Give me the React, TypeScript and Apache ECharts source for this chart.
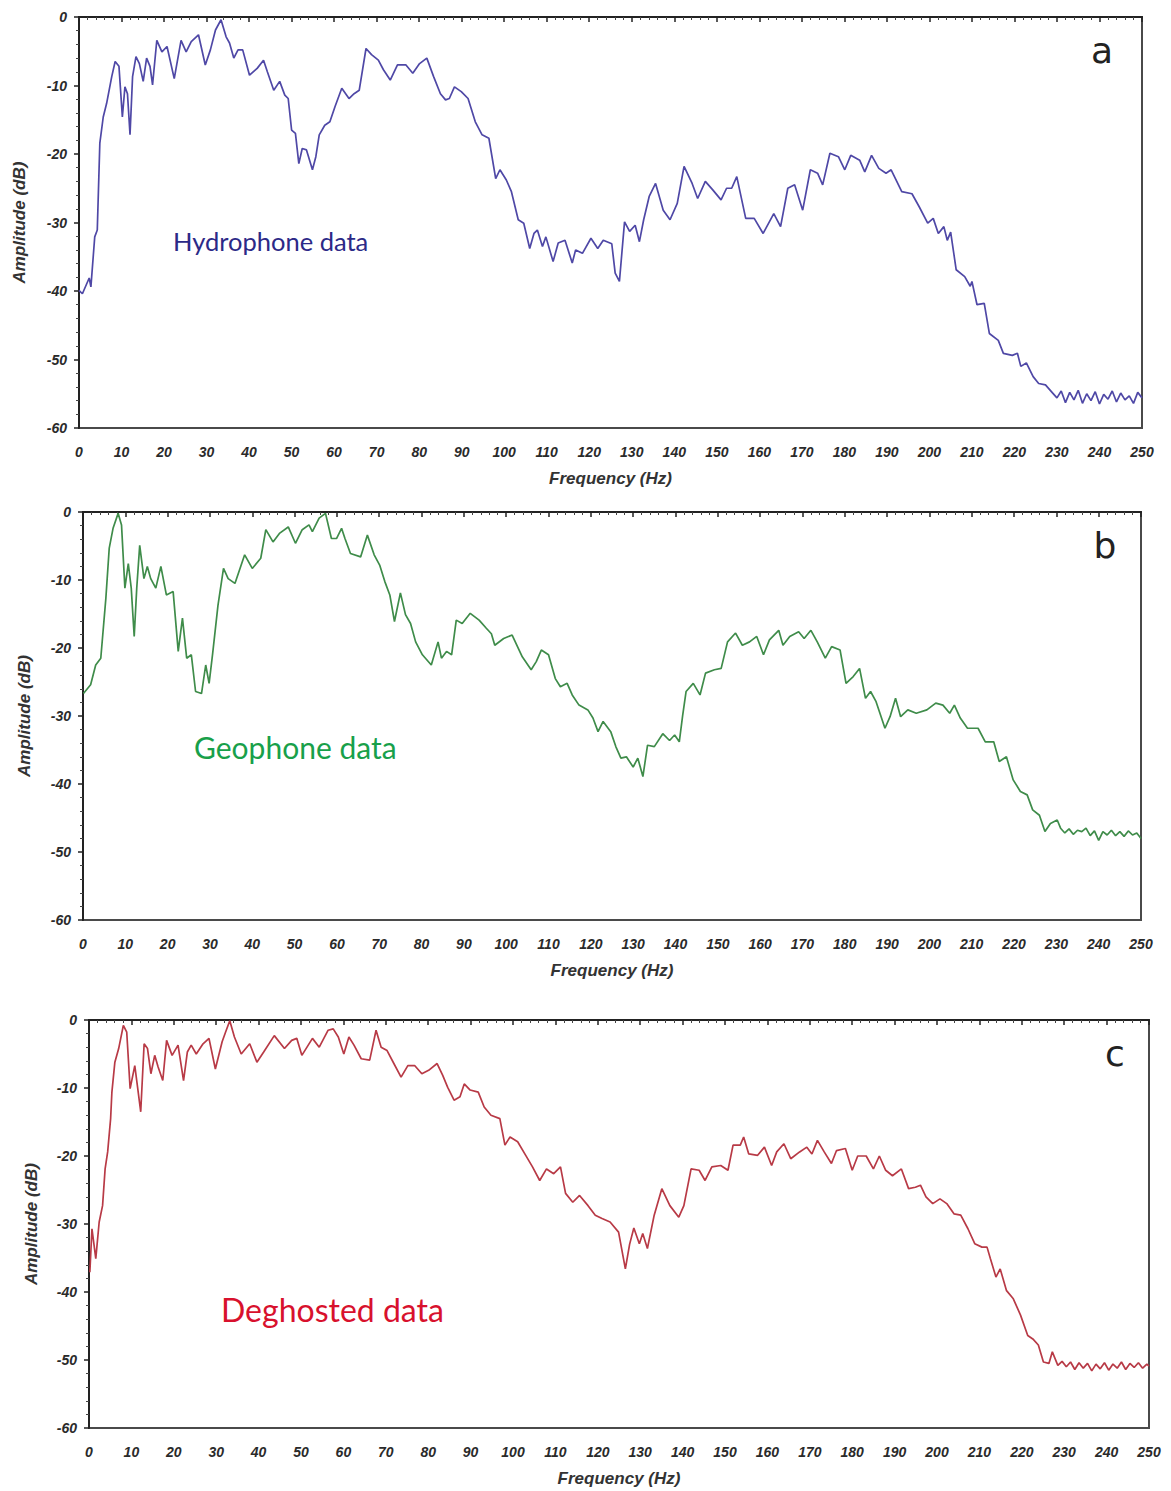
import React, { useEffect, useRef } from "react";
import * as echarts from "echarts";

// Frequency axis ticks (Hz) and amplitude ticks (dB)
const freqTicks = [0, 10, 20, 30, 40, 50, 60, 70, 80, 90, 100, 110, 120, 130, 140, 150, 160, 170, 180, 190, 200, 210, 220, 230, 240, 250];
const ampTicks = [0, -10, -20, -30, -40, -50, -60];

const panelLetters = ["a", "b", "c"];
const panelLabels = ["Hydrophone data", "Geophone data", "Deghosted data"];

// [frequency Hz, amplitude dB]
const hydrophone = [
  [0, -39.9], [0.8, -40.4], [2.4, -38.1], [2.8, -39.4], [3.7, -32.1], [4.3, -31.1], [4.9, -18.4], [5.7, -14.6], [6.5, -12.6],
  [7.7, -8.7], [8.5, -6.5], [9.4, -7.2], [10.2, -14.6], [10.8, -10.2], [11.4, -11.2], [12.0, -17.2], [12.6, -8.7], [13.4, -5.8],
  [14.2, -6.8], [15.1, -9.4], [15.9, -6.0], [16.7, -7.2], [17.3, -9.9], [18.3, -3.4], [19.5, -5.1], [20.7, -4.3], [22.4, -9.0],
  [24.0, -3.4], [25.2, -5.1], [26.4, -3.6], [28.1, -2.6], [29.7, -7.0], [30.9, -4.8], [32.1, -1.9], [33.4, -0.4], [34.6, -2.9],
  [35.4, -3.8], [36.4, -6.0], [37.4, -4.8], [38.5, -4.8], [40.1, -8.5], [41.9, -7.5], [43.4, -6.3], [44.3, -8.0], [45.8, -10.7],
  [47.2, -9.4], [48.4, -11.4], [49.2, -11.9], [50.0, -16.5], [50.9, -17.0], [51.7, -21.4], [52.5, -19.2], [53.5, -19.4], [54.9, -22.3],
  [55.7, -20.4], [56.5, -17.2], [57.8, -15.8], [59.0, -15.3], [60.2, -13.1], [61.8, -10.4], [63.5, -11.9], [64.7, -11.2], [65.9, -10.7],
  [67.5, -4.6], [68.8, -5.5], [70.4, -6.3], [71.6, -7.7], [73.2, -9.2], [74.9, -7.0], [76.9, -7.0], [78.5, -8.2], [80.1, -6.8],
  [81.8, -6.0], [83.4, -8.7], [85.0, -11.2], [86.2, -12.1], [87.1, -11.9], [88.3, -10.2], [89.9, -10.9], [91.5, -11.9], [93.2, -15.3],
  [94.8, -17.2], [96.4, -17.7], [98.0, -23.6], [99.0, -22.3], [100.5, -23.8], [101.7, -25.5], [103.3, -29.6], [104.6, -30.1],
  [106.0, -33.8], [107.0, -31.6], [107.8, -31.1], [109.0, -33.5], [109.8, -32.1], [111.5, -35.7], [112.7, -33.0], [114.3, -32.6],
  [116.0, -35.9], [116.8, -34.0], [118.4, -34.5], [120.4, -32.3], [122.0, -33.8], [123.3, -32.6], [125.3, -33.1], [126.1, -37.4],
  [127.1, -38.6], [128.3, -29.9], [129.5, -31.3], [130.8, -30.4], [131.8, -32.8], [132.8, -29.6], [134.1, -26.2], [135.6, -24.3],
  [137.4, -28.2], [139.0, -29.6], [140.7, -27.2], [142.3, -21.8], [144.2, -24.3], [145.5, -26.5], [147.3, -24.0], [149.0, -25.2],
  [151.0, -26.7], [152.3, -25.0], [153.5, -25.0], [154.7, -23.3], [156.8, -29.4], [158.8, -29.4], [160.9, -31.6], [163.4, -28.7],
  [165.0, -30.6], [166.7, -25.0], [168.3, -24.5], [170.2, -28.2], [172.0, -22.3], [173.7, -22.8], [174.9, -24.5], [176.6, -19.9],
  [178.6, -20.4], [180.1, -22.3], [181.5, -20.2], [183.6, -20.9], [184.8, -22.6], [186.4, -20.2], [188.1, -22.1], [189.8, -22.8],
  [191.0, -22.3], [193.5, -25.5], [195.9, -25.8], [197.6, -27.7], [199.6, -30.1], [200.9, -29.4], [202.1, -31.6], [203.4, -30.6],
  [204.2, -32.6], [205.0, -31.4], [206.3, -36.9], [208.3, -37.9], [209.6, -39.3], [210.0, -38.6], [211.2, -42.0], [212.9, -41.8],
  [214.1, -46.2], [216.2, -47.2], [217.4, -49.1], [219.5, -49.4], [220.7, -49.1], [221.5, -51.0], [222.8, -50.5], [224.4, -52.5],
  [225.7, -53.5], [227.3, -53.7], [229.0, -54.9], [230, -55.6], [231, -54.6], [232, -56.3], [233, -54.8], [234, -55.9], [235, -54.5],
  [236, -56.4], [237, -55.0], [238, -56.0], [239, -54.7], [240, -56.5], [241, -55.1], [242, -55.8], [243, -54.6], [244, -56.2],
  [245, -54.9], [246, -55.9], [247, -55.3], [248, -56.4], [249, -54.8], [250, -55.6],
];

const geophone = [
  [0.1, -26.7], [1.8, -25.4], [3.0, -22.5], [4.2, -21.5], [5.4, -12.7], [6.2, -5.3], [7.1, -2.4], [8.3, -0.2], [9.1, -1.9],
  [9.9, -11.2], [10.7, -7.6], [11.4, -11.2], [12.1, -18.3], [12.7, -11.2], [13.4, -4.9], [14.4, -9.8], [15.2, -8.0], [16.0, -9.8],
  [17.2, -11.2], [18.4, -8.0], [19.7, -12.2], [21.3, -11.7], [22.5, -20.5], [23.5, -15.6], [24.5, -21.5], [25.6, -21.0], [26.6, -26.4],
  [28.0, -26.7], [29.0, -22.5], [29.8, -25.2], [30.6, -21.0], [31.9, -13.7], [33.2, -8.3], [34.3, -9.8], [35.9, -10.5], [38.2, -6.3],
  [40.0, -8.3], [42.0, -6.8], [43.2, -2.6], [44.9, -4.4], [46.5, -3.1], [48.5, -2.2], [50.2, -4.6], [51.8, -2.6], [53.4, -1.9],
  [54.2, -2.9], [55.8, -0.9], [57.3, -0.2], [58.7, -3.9], [59.9, -3.9], [61.1, -2.4], [61.9, -3.9], [63.2, -6.1], [65.6, -6.6],
  [67.2, -3.4], [68.8, -6.3], [70.1, -7.8], [71.3, -10.2], [72.5, -12.2], [73.6, -16.1], [75.0, -11.9], [76.2, -15.1], [77.4, -16.4],
  [78.6, -19.1], [80.2, -21.0], [82.3, -22.5], [83.9, -19.1], [84.7, -21.5], [85.9, -20.5], [87.1, -21.0], [88.2, -15.9], [89.6, -16.4],
  [91.5, -14.9], [93.6, -15.9], [95.3, -17.1], [96.5, -17.9], [97.3, -19.6], [99.4, -18.6], [101.4, -18.1], [103.8, -21.3],
  [105.9, -23.2], [107.1, -22.0], [108.3, -20.3], [110.0, -21.0], [111.6, -24.5], [112.8, -25.7], [114.4, -25.2], [115.6, -26.9],
  [117.2, -28.4], [119.3, -29.1], [120.5, -30.3], [121.7, -32.3], [122.9, -30.8], [124.7, -32.3], [125.9, -34.5], [127.1, -36.2],
  [128.4, -36.0], [130.0, -37.5], [131.1, -36.2], [132.3, -38.9], [133.4, -34.3], [135.0, -34.5], [137.0, -32.6], [138.6, -33.6],
  [139.8, -32.8], [140.9, -33.8], [141.7, -29.9], [142.5, -26.4], [144.2, -25.2], [145.8, -26.9], [147.1, -23.7], [149.2, -23.2],
  [150.8, -23.0], [152.3, -19.1], [154.2, -17.8], [155.8, -19.6], [157.5, -19.1], [159.2, -18.3], [160.8, -21.0], [162.2, -18.8],
  [164.4, -17.4], [165.4, -19.6], [167.0, -18.3], [169.1, -17.6], [170.4, -18.6], [172.0, -17.4], [173.5, -19.1], [175.4, -21.5],
  [176.9, -19.8], [178.9, -20.3], [180.3, -25.2], [182.0, -24.2], [183.5, -23.0], [184.9, -27.4], [186.1, -26.4], [187.4, -27.9],
  [189.5, -31.8], [190.7, -30.1], [192.0, -27.4], [193.2, -30.1], [194.9, -29.1], [196.9, -29.6], [199.4, -29.1], [201.5, -28.1],
  [203.2, -28.4], [204.8, -29.6], [205.9, -28.4], [207.3, -30.3], [209.0, -31.8], [211.5, -31.8], [213.2, -33.8], [215.2, -33.8],
  [216.5, -36.7], [218.2, -36.0], [219.8, -39.4], [221.5, -41.1], [223.1, -41.6], [224.4, -43.8], [226.0, -44.6], [227.3, -47.0],
  [228.6, -45.8], [230.2, -45.3], [231, -46.5], [232, -47.2], [233, -46.6], [234, -47.4], [235, -46.8], [236, -47.0], [237, -46.5],
  [238, -47.6], [239, -46.9], [240, -48.3], [241, -47.0], [242, -47.5], [243, -46.8], [244, -47.6], [245, -47.0], [246, -47.7],
  [247, -46.9], [248, -47.5], [249, -47.2], [250, -48.0],
];

const deghosted = [
  [0.2, -37.1], [0.7, -30.7], [1.6, -35.1], [2.4, -29.7], [3.2, -27.3], [3.8, -21.9], [4.4, -19.4], [5.1, -14.5], [5.4, -10.6],
  [6.1, -6.2], [7.0, -4.2], [8.1, -0.8], [8.9, -1.8], [9.7, -10.1], [10.8, -6.7], [11.4, -9.6], [12.2, -13.5], [13.0, -3.5],
  [13.8, -4.2], [14.6, -7.9], [15.5, -5.2], [16.3, -6.9], [17.4, -8.9], [18.3, -3.0], [19.6, -5.2], [21.0, -3.7], [22.3, -8.9],
  [23.2, -4.7], [24.1, -3.7], [25.3, -5.0], [26.9, -3.5], [28.3, -2.7], [29.8, -7.2], [31.4, -3.2], [32.2, -1.8], [33.2, -0.1],
  [34.3, -2.5], [35.9, -5.0], [37.9, -3.5], [39.6, -6.2], [41.2, -4.7], [43.7, -2.3], [46.1, -4.2], [47.8, -3.0], [49.0, -2.7],
  [50.2, -5.2], [52.7, -2.7], [54.3, -4.0], [56.4, -1.5], [57.6, -1.3], [58.8, -2.5], [60.1, -5.0], [61.3, -2.5], [62.5, -3.7],
  [64.2, -5.7], [66.2, -5.9], [67.7, -1.5], [68.9, -4.0], [70.3, -4.5], [71.9, -6.4], [73.6, -8.4], [75.2, -6.7], [76.8, -6.7],
  [78.5, -7.9], [80.1, -7.4], [82.1, -6.4], [83.4, -8.1], [84.6, -9.9], [86.1, -11.8], [87.5, -11.3], [88.5, -9.4], [89.9, -10.3],
  [91.8, -10.6], [93.2, -12.8], [94.8, -14.0], [96.9, -14.5], [98.1, -18.4], [99.3, -17.2], [101.1, -17.9], [103.0, -19.9],
  [104.6, -21.6], [106.3, -23.6], [107.9, -21.9], [109.6, -22.6], [111.2, -21.6], [112.4, -25.5], [114.1, -26.8], [115.7, -25.8],
  [117.7, -27.3], [119.4, -28.7], [121.0, -29.2], [122.9, -29.7], [124.9, -31.2], [126.5, -36.6], [127.5, -33.0], [128.5, -30.6],
  [129.8, -32.9], [130.6, -31.4], [131.7, -33.6], [133.3, -28.7], [135.1, -24.8], [137.0, -27.3], [139.1, -29.0], [140.3, -27.3],
  [142.0, -21.9], [143.9, -22.1], [145.3, -23.6], [146.9, -21.6], [149.0, -21.4], [150.7, -22.1], [151.9, -18.4], [153.6, -18.4],
  [154.4, -17.2], [155.6, -19.7], [157.7, -19.9], [159.3, -18.7], [161.0, -21.4], [162.2, -19.4], [163.9, -18.2], [165.5, -20.4],
  [167.6, -19.4], [169.3, -18.7], [170.5, -19.7], [171.8, -17.7], [173.4, -19.4], [175.1, -21.1], [176.3, -19.2], [178.4, -18.9],
  [180.0, -22.1], [181.3, -20.0], [183.3, -20.0], [185.0, -21.9], [186.4, -20.0], [187.9, -22.1], [189.5, -22.9], [191.6, -21.9],
  [193.3, -24.8], [194.9, -24.6], [196.1, -24.3], [197.4, -26.0], [199.0, -27.0], [200.7, -26.3], [202.3, -27.0], [204.0, -28.5],
  [205.6, -28.7], [207.3, -30.7], [208.9, -32.9], [210.6, -33.4], [211.8, -33.4], [212.6, -35.1], [213.9, -37.8], [214.9, -36.6],
  [216.4, -39.8], [218.0, -41.0], [219.7, -43.4], [221.4, -46.4], [222.6, -46.9], [223.9, -47.8], [225.1, -50.3], [226.4, -50.5],
  [227.2, -48.8], [228.5, -50.8], [229.5, -50.2], [230.5, -51.0], [231.5, -50.3], [232.5, -51.4], [233.5, -50.4], [234.5, -51.2],
  [235.5, -50.5], [236.5, -51.6], [237.5, -50.6], [238.5, -51.3], [239.5, -50.4], [240.5, -51.5], [241.5, -50.6], [242.5, -51.2],
  [243.5, -50.3], [244.5, -51.4], [245.5, -50.5], [246.5, -51.1], [247.5, -50.4], [248.5, -51.2], [249.5, -50.6], [250, -50.9],
];

const seriesData = [hydrophone, geophone, deghosted];
const lineColors = ["#4f48a6", "#3f8c4a", "#b83a46"];
const labelColors = ["#2c2987", "#18a04a", "#d8112d"];

// layout (pixels)
const grids = [
  { left: 79, top: 17, width: 1063, height: 411, nameGapY: 51 },
  { left: 83, top: 512, width: 1058, height: 408, nameGapY: 50 },
  { left: 89, top: 1020, width: 1060, height: 408, nameGapY: 49 },
];
const labelStyles = [
  { x: 173, y: 241, size: 25.5 },
  { x: 194, y: 747, size: 30 },
  { x: 221, y: 1309, size: 32 },
];
const letterPos = [
  { x: 1102, y: 50 },
  { x: 1105, y: 545 },
  { x: 1115, y: 1053 },
];

const tickFont = {
  fontSize: 14,
  fontStyle: "italic" as const,
  fontWeight: "bold" as const,
  fontFamily: "'Liberation Sans', Arial, sans-serif",
  color: "#2a2a2a",
};

export default function App() {
  const ref = useRef<HTMLDivElement>(null);
  useEffect(() => {
    document.body.style.margin = "0";
    if (!ref.current) return;
    const chart = echarts.init(ref.current, null, { renderer: "svg" });
    const xAxes = grids.map((_, i) => ({
      type: "value",
      gridIndex: i,
      min: freqTicks[0],
      max: freqTicks[freqTicks.length - 1],
      interval: 10,
      name: "Frequency (Hz)",
      nameLocation: "middle",
      nameGap: 42,
      nameTextStyle: { ...tickFont, fontSize: 17, color: "#333" },
      axisLine: { show: true, lineStyle: { color: "#222", width: 2 } },
      axisTick: { show: true, length: 5, lineStyle: { color: "#222", width: 1.5 } },
      minorTick: { show: true, splitNumber: 5, length: 3, lineStyle: { color: "#444", width: 1 } },
      splitLine: { show: false },
      axisLabel: { ...tickFont, margin: 17 },
    }));
    const yAxes = grids.map((g, i) => ({
      type: "value",
      gridIndex: i,
      min: ampTicks[ampTicks.length - 1],
      max: ampTicks[0],
      interval: 10,
      name: "Amplitude (dB)",
      nameLocation: "middle",
      nameGap: g.nameGapY,
      nameTextStyle: { ...tickFont, fontSize: 17, color: "#333" },
      axisLine: { show: true, lineStyle: { color: "#222", width: 2 } },
      axisTick: { show: true, length: 5, lineStyle: { color: "#222", width: 1.5 } },
      minorTick: { show: true, splitNumber: 5, length: 3, lineStyle: { color: "#444", width: 1 } },
      splitLine: { show: false },
      axisLabel: { ...tickFont, margin: 12 },
    }));
    const graphics: any[] = [];
    panelLabels.forEach((t, i) => {
      graphics.push({
        type: "text",
        x: labelStyles[i].x,
        y: labelStyles[i].y,
        style: {
          text: t,
          fill: labelColors[i],
          font: `${labelStyles[i].size}px Lato, 'Open Sans', sans-serif`,
          align: "left",
          verticalAlign: "middle",
        },
      });
      graphics.push({
        type: "text",
        x: letterPos[i].x,
        y: letterPos[i].y,
        style: {
          text: panelLetters[i],
          fill: "#222",
          font: "36px 'DejaVu Sans', sans-serif",
          align: "center",
          verticalAlign: "middle",
        },
      });
    });
    chart.setOption({
      animation: false,
      backgroundColor: "#fff",
      grid: grids.map((g) => ({
        left: g.left,
        top: g.top,
        width: g.width,
        height: g.height,
        show: true,
        borderColor: "#4a4a4a",
        borderWidth: 2,
        backgroundColor: "transparent",
        containLabel: false,
      })),
      xAxis: xAxes,
      yAxis: yAxes,
      series: seriesData.map((d, i) => ({
        type: "line",
        xAxisIndex: i,
        yAxisIndex: i,
        data: d,
        showSymbol: false,
        smooth: false,
        lineStyle: { color: lineColors[i], width: 1.7 },
      })),
      graphic: graphics,
    });
    return () => chart.dispose();
  }, []);
  return <div ref={ref} style={{ width: 1171, height: 1491 }} />;
}
